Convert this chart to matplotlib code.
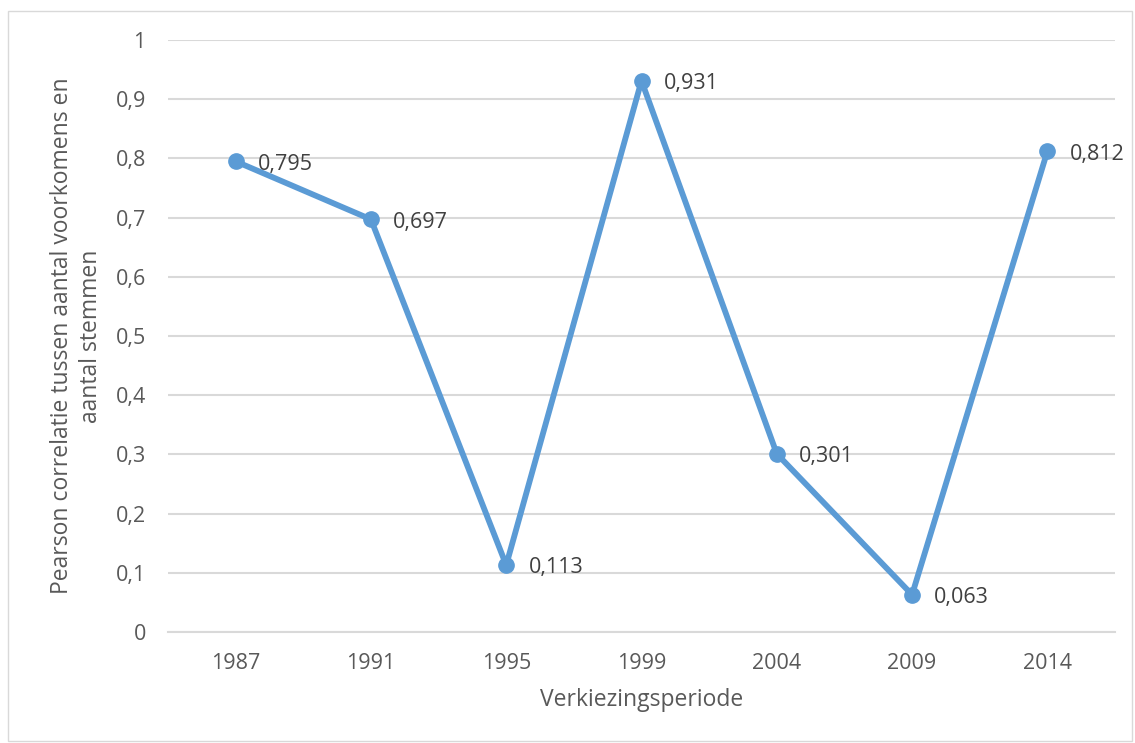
import matplotlib.pyplot as plt
from matplotlib.patches import Rectangle

years = ['1987', '1991', '1995', '1999', '2004', '2009', '2014']
correlations = [0.795, 0.697, 0.113, 0.931, 0.301, 0.063, 0.812]
y_ticks = [0, 0.1, 0.2, 0.3, 0.4, 0.5, 0.6, 0.7, 0.8, 0.9, 1.0]

text_color = '#595959'
line_color = '#5B9BD5'

plt.rcParams['font.family'] = ['Open Sans', 'DejaVu Sans']

fig = plt.figure(figsize=(11.35, 7.43), dpi=100)
ax = fig.add_axes([168 / 1135, 1 - 632 / 743, (1115 - 168) / 1135, (632 - 40) / 743])

x = list(range(len(years)))
ax.plot(x, correlations, color=line_color, linewidth=4.2, marker='o',
        markersize=11, zorder=3, solid_capstyle='round')

for xi, v in zip(x, correlations):
    label = ('%.3f' % v).replace('.', ',')
    ax.annotate(label, (xi, v), xytext=(16, -2), textcoords='offset points',
                ha='left', va='center', fontsize=15.5, color='#404040')

ax.set_xlim(-0.5, len(years) - 0.5)
ax.set_ylim(0, 1)
ax.set_xticks(x)
ax.set_xticklabels(years)
ax.set_yticks(y_ticks)
ax.set_yticklabels([('%g' % t).replace('.', ',') for t in y_ticks])
ax.tick_params(length=0, labelsize=15.5, colors=text_color)
ax.tick_params(axis='x', pad=15)
ax.tick_params(axis='y', pad=16)

ax.grid(axis='y', color='#D9D9D9', linewidth=1.5)
ax.set_axisbelow(True)
for s in ['top', 'right', 'left']:
    ax.spines[s].set_visible(False)
ax.spines['bottom'].set_color('#D9D9D9')
ax.spines['bottom'].set_linewidth(1.5)

ax.set_xlabel('Verkiezingsperiode', fontsize=16.5, color=text_color, labelpad=10)
ax.set_ylabel('Pearson correlatie tussen aantal voorkomens en\naantal stemmen',
              fontsize=16.5, color=text_color, labelpad=9, linespacing=1.3)

# chart area frame
fig.patches.append(Rectangle((8 / 1135, 2 / 743), 1124 / 1135, 730 / 743,
                             transform=fig.transFigure, fill=False,
                             edgecolor='#D9D9D9', linewidth=1))

fig.savefig('out.png', dpi=100)
